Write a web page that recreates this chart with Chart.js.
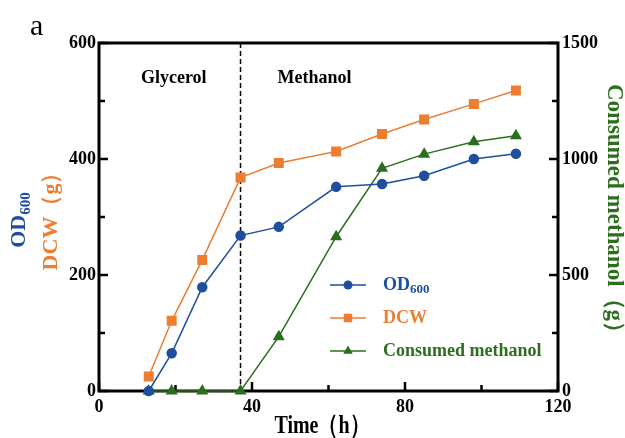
<!DOCTYPE html>
<html>
<head>
<meta charset="utf-8">
<script src="https://cdn.jsdelivr.net/npm/chart.js@4.4.0/dist/chart.umd.min.js"></script>
<style>
  html, body { margin: 0; padding: 0; background: #fff; }
</style>
</head>
<body>
<canvas id="myChart" width="625" height="438"></canvas>
<script>
// sampling times (h) and measured values
const times = [13, 19, 27, 37, 47, 62, 74, 85, 98, 109];
const od600 = [0, 65, 179, 268, 283, 352, 357, 371, 400, 409];
const dcw = [25, 121, 226, 368, 393, 413, 443, 468, 495, 518];
const methanol = [0, 0, 0, 0, 234, 665, 960, 1021, 1074, 1100];

const phaseSwitch = 37;
const phaseLabels = ['Glycerol', 'Methanol'];
const xTicks = [0, 40, 80, 120];

const blue = '#1f4e9e';
const orange = '#ed7d31';
const green = '#2b6e1e';
const serif = '"Liberation Serif", "Times New Roman", serif';

function pts(ys) {
  return times.map((t, i) => ({x: t, y: ys[i]}));
}

// rotated / plain text with an optional subscript part
function drawLabel(ctx, x, y, angle, parts, sy) {
  ctx.save();
  ctx.translate(x, y);
  ctx.rotate(angle);
  if (sy) ctx.scale(1, sy);
  ctx.textBaseline = 'middle';
  ctx.textAlign = 'left';
  let total = 0;
  parts.forEach(p => { ctx.font = p.font; total += ctx.measureText(p.text).width; });
  let cx = -total / 2;
  parts.forEach(p => {
    ctx.font = p.font;
    ctx.fillStyle = p.color;
    ctx.fillText(p.text, cx, p.sub ? 7 : 0);
    cx += ctx.measureText(p.text).width;
  });
  ctx.restore();
}

const decor = {
  id: 'decor',
  beforeDatasetsDraw(chart) {
    const {ctx, chartArea: a, scales} = chart;
    ctx.save();
    // phase switch line
    const px = scales.x.getPixelForValue(phaseSwitch);
    ctx.strokeStyle = '#000';
    ctx.lineWidth = 1.5;
    ctx.setLineDash([5, 3]);
    ctx.beginPath();
    ctx.moveTo(px, a.top);
    ctx.lineTo(px, a.bottom);
    ctx.stroke();
    ctx.setLineDash([]);

    // inward tick marks
    ctx.lineWidth = 2.5;
    ctx.beginPath();
    for (let v = 0; v <= 120; v += 20) {
      const p = scales.x.getPixelForValue(v);
      const len = v % 40 === 0 ? 9 : 6;
      ctx.moveTo(p, a.bottom);
      ctx.lineTo(p, a.bottom - len);
    }
    for (let v = 0; v <= 600; v += 100) {
      const p = scales.y.getPixelForValue(v);
      const len = v % 200 === 0 ? 9 : 6;
      ctx.moveTo(a.left, p);
      ctx.lineTo(a.left + len, p);
    }
    for (let v = 0; v <= 1500; v += 250) {
      const p = scales.y2.getPixelForValue(v);
      const len = v % 500 === 0 ? 9 : 6;
      ctx.moveTo(a.right, p);
      ctx.lineTo(a.right - len, p);
    }
    ctx.stroke();

    // frame
    ctx.lineWidth = 3;
    ctx.strokeRect(a.left, a.top, a.right - a.left, a.bottom - a.top);
    ctx.restore();
  },
  afterDraw(chart) {
    const {ctx, chartArea: a, scales} = chart;
    const px = scales.x.getPixelForValue(phaseSwitch);
    ctx.save();
    ctx.fillStyle = '#000';
    ctx.font = 'bold 18px ' + serif;
    ctx.textAlign = 'center';
    ctx.textBaseline = 'middle';
    ctx.fillText(phaseLabels[0], (a.left + px) / 2 + 4, 78);
    ctx.fillText(phaseLabels[1], px + 74, 78);

    ctx.font = '30px ' + serif;
    ctx.textAlign = 'left';
    ctx.textBaseline = 'alphabetic';
    ctx.fillText('a', 30, 35);

    // axis titles
    drawLabel(ctx, 322, 426, 0, [
      {text: 'Time（h）', font: 'bold 20px ' + serif, color: '#000'}
    ], 1.3);
    drawLabel(ctx, 19, 220, -Math.PI / 2, [
      {text: 'OD', font: 'bold 22px ' + serif, color: blue},
      {text: '600', font: 'bold 15px ' + serif, color: blue, sub: true}
    ]);
    drawLabel(ctx, 51, 216, -Math.PI / 2, [
      {text: 'DCW（g）', font: 'bold 22px ' + serif, color: orange}
    ]);
    drawLabel(ctx, 614, 214, Math.PI / 2, [
      {text: 'Consumed methanol（g）', font: 'bold 23px ' + serif, color: green}
    ]);

    // legend
    const rows = [285, 318, 351];
    chart.data.datasets.forEach((ds, i) => {
      const y = rows[i];
      ctx.strokeStyle = ds.borderColor;
      ctx.fillStyle = ds.backgroundColor;
      ctx.lineWidth = 1.5;
      ctx.beginPath();
      ctx.moveTo(330, y);
      ctx.lineTo(366, y);
      ctx.stroke();
      Chart.helpers.drawPoint(ctx, {pointStyle: ds.pointStyle, radius: ds.pointRadius, rotation: 0, borderWidth: 0}, 348, y);
      ctx.textAlign = 'left';
      ctx.textBaseline = 'middle';
      ctx.fillStyle = ds.borderColor;
      ctx.font = 'bold 18px ' + serif;
      let tx = 383;
      ctx.fillText(ds.legendText, tx, y);
      if (ds.legendSub) {
        tx += ctx.measureText(ds.legendText).width;
        ctx.font = 'bold 13px ' + serif;
        ctx.fillText(ds.legendSub, tx, y + 5);
      }
    });
    ctx.restore();
  }
};

const tickFont = {family: serif, size: 18, weight: 'bold'};

const data = {
  datasets: [{
    label: 'OD600',
    legendText: 'OD',
    legendSub: '600',
    data: pts(od600),
    borderColor: blue,
    backgroundColor: blue,
    pointStyle: 'circle',
    pointRadius: 4.5,
    borderWidth: 1.5,
    clip: false,
    yAxisID: 'y'
  }, {
    label: 'DCW',
    legendText: 'DCW',
    data: pts(dcw),
    borderColor: orange,
    backgroundColor: orange,
    pointStyle: 'rect',
    pointRadius: 6,
    borderWidth: 1.5,
    clip: false,
    yAxisID: 'y'
  }, {
    label: 'Consumed methanol',
    legendText: 'Consumed methanol',
    data: pts(methanol),
    borderColor: green,
    backgroundColor: green,
    pointStyle: 'triangle',
    pointRadius: 5.5,
    borderWidth: 1.5,
    clip: false,
    yAxisID: 'y2'
  }]
};

const config = {
  type: 'line',
  data: data,
  options: {
    responsive: false,
    devicePixelRatio: 1,
    animation: false,
    layout: {padding: {top: 43, left: 0, right: 0, bottom: 0}},
    elements: {
      line: {tension: 0},
      point: {borderWidth: 0, hoverRadius: 5}
    },
    plugins: {
      legend: {display: false},
      tooltip: {enabled: false}
    },
    scales: {
      x: {
        type: 'linear',
        min: 0,
        max: 120,
        afterBuildTicks: s => { s.ticks = xTicks.map(v => ({value: v})); },
        ticks: {font: tickFont, color: '#000', padding: 6, maxRotation: 0},
        grid: {display: false, drawTicks: false},
        border: {display: false},
        afterFit: s => { s.height = 47; }
      },
      y: {
        position: 'left',
        min: 0,
        max: 600,
        ticks: {stepSize: 200, font: tickFont, color: '#000', padding: 3},
        grid: {display: false, drawTicks: false},
        border: {display: false},
        afterFit: s => { s.width = 99; }
      },
      y2: {
        position: 'right',
        min: 0,
        max: 1500,
        ticks: {stepSize: 500, font: tickFont, color: '#000', padding: 4, callback: v => String(v)},
        grid: {display: false, drawTicks: false},
        border: {display: false},
        afterFit: s => { s.width = 67; }
      }
    }
  },
  plugins: [decor]
};

const myChart = new Chart(document.getElementById('myChart'), config);
</script>
</body>
</html>
